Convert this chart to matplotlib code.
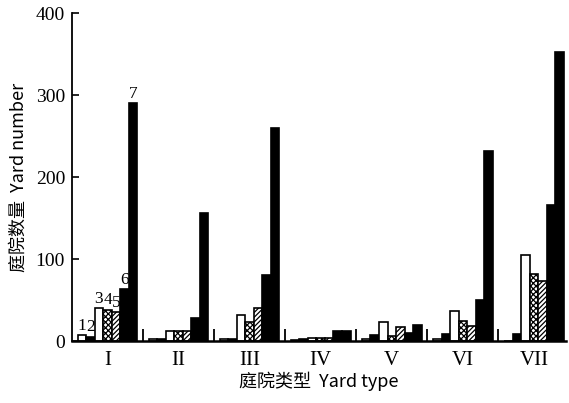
import matplotlib
matplotlib.use("Agg")
import matplotlib.pyplot as plt
import numpy as np

plt.rcParams['font.family'] = ['Liberation Serif', 'Noto Sans CJK SC', 'DejaVu Sans']

categories = ['I', 'II', 'III', 'IV', 'V', 'VI', 'VII']
series_names = ['1', '2', '3', '4', '5', '6', '7']
s1 = [7, 2, 3, 1, 2, 3, 0]
s2 = [5, 3, 3, 3, 7, 8, 8]
s3 = [40, 12, 32, 4, 23, 37, 105]
s4 = [38, 12, 23, 4, 6, 25, 82]
s5 = [35, 12, 40, 4, 17, 18, 73]
s6 = [63, 28, 80, 12, 10, 50, 166]
s7 = [290, 156, 260, 12, 20, 232, 352]
series = [s1, s2, s3, s4, s5, s6, s7]

styles = [
    dict(color='white', hatch=None),
    dict(color='black', hatch=None),
    dict(color='white', hatch=None),
    dict(color='white', hatch='xxxxxx'),
    dict(color='white', hatch='///////'),
    dict(color='black', hatch=None),
    dict(color='black', hatch=None),
]

fig = plt.figure(figsize=(5.69, 4.03), dpi=100)
ax = fig.add_axes([0.1265, 0.1538, 0.868, 0.8139])

x = np.arange(len(categories))
w = 0.12
plt.rcParams['hatch.linewidth'] = 0.9
for i, (vals, st) in enumerate(zip(series, styles)):
    pos = x + (i - 3) * w
    ax.bar(pos, vals, width=w, color=st['color'], edgecolor='black',
           linewidth=1.2, hatch=st['hatch'])

# series labels over group I
lab_y = [s1[0], s2[0], s3[0], s4[0], s5[0], s6[0], s7[0]]
for i, name in enumerate(series_names):
    ax.text(x[0] + (i - 3) * w, lab_y[i] + 2, name, ha='center', va='bottom',
            fontsize=12.5)

ax.set_xlim(-0.5, 6.45)
ax.set_ylim(0, 400)
ax.spines['top'].set_visible(False)
ax.spines['right'].set_visible(False)
ax.spines['left'].set_linewidth(1.3)
ax.spines['bottom'].set_linewidth(1.8)

ax.set_yticks([0, 100, 200, 300, 400])
ax.tick_params(axis='y', direction='in', length=5, labelsize=14, width=1.2, pad=5)
ax.set_xticks(x)
ax.set_xticklabels(categories, fontsize=15)
ax.tick_params(axis='x', which='major', length=0, pad=7)
ax.set_xticks(x[:-1] + 0.5, minor=True)
ax.tick_params(axis='x', which='minor', direction='in', length=9, width=1.3)

ax.set_ylabel('庭院数量  Yard number', fontsize=13,
              family=['Noto Sans CJK SC', 'Liberation Serif'], labelpad=6)
ax.set_xlabel('庭院类型  Yard type', fontsize=13,
              family=['Noto Sans CJK SC', 'Liberation Serif'], labelpad=1)

fig.savefig('out.png', dpi=100)
